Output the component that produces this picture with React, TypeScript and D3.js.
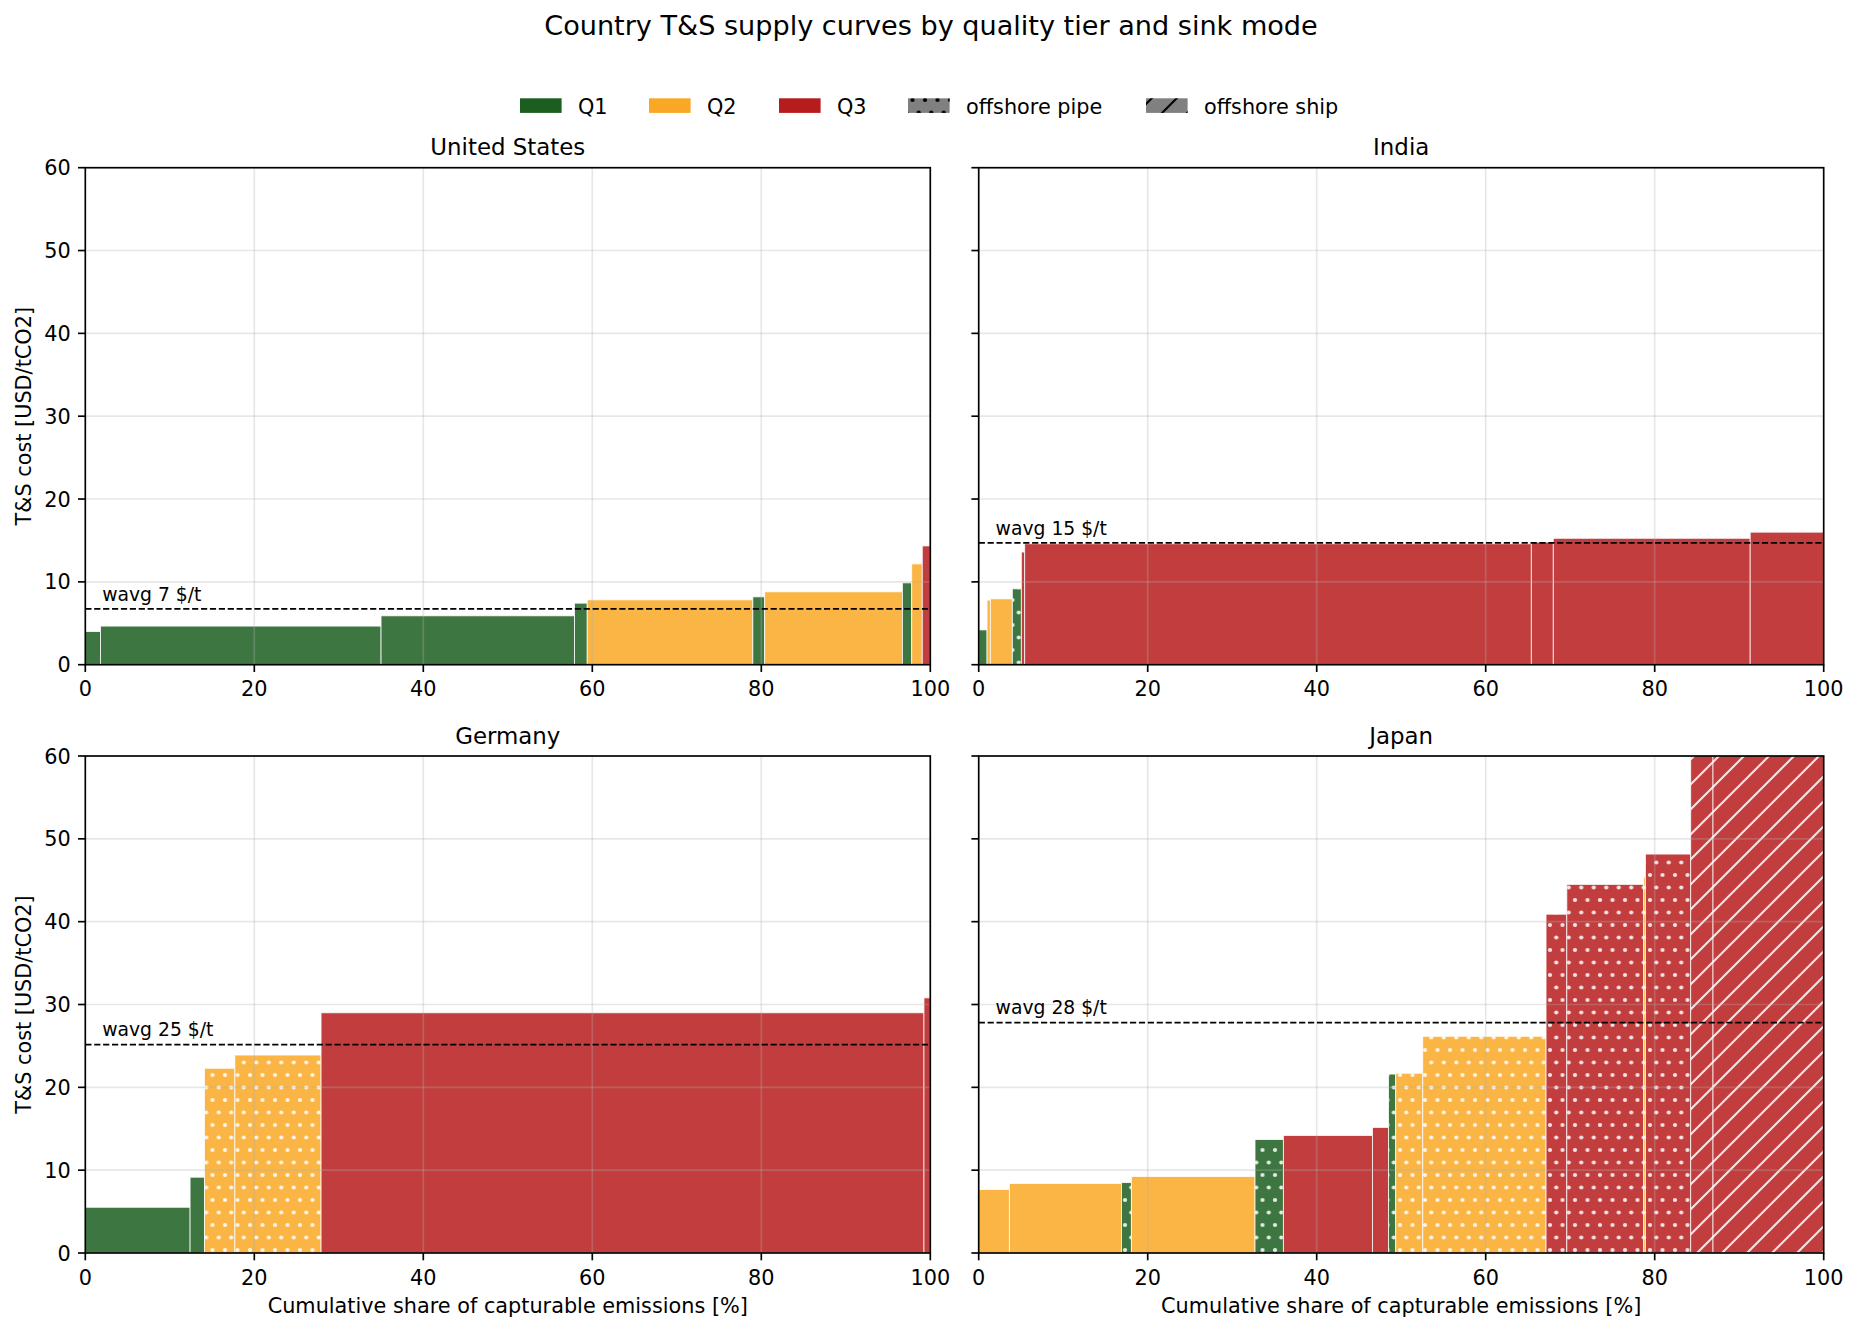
import * as d3 from 'd3';

// Country supply curves: each block = share of capturable emissions (%), T&S cost (USD/t),
// quality tier and sink mode.
const usShare = [1.8, 33.2, 22.9, 1.5, 19.6, 1.4, 16.3, 1.1, 1.25, 0.95];
const usCost = [4.0, 4.66, 5.9, 7.43, 7.83, 8.19, 8.8, 9.88, 12.17, 14.34];
const usTier = ['Q1', 'Q1', 'Q1', 'Q1', 'Q2', 'Q1', 'Q2', 'Q1', 'Q2', 'Q3'];
const usMode = ['on', 'on', 'on', 'on', 'on', 'on', 'on', 'on', 'on', 'on'];

const inShare = [0.99, 0.39, 2.6, 1.07, 0.39, 59.96, 2.6, 23.3, 8.7];
const inCost = [4.2, 7.8, 7.95, 9.16, 13.6, 14.6, 14.8, 15.26, 16.0];
const inTier = ['Q1', 'Q2', 'Q2', 'Q1', 'Q3', 'Q3', 'Q3', 'Q3', 'Q3'];
const inMode = ['on', 'on', 'on', 'pipe', 'on', 'on', 'on', 'on', 'on'];

const deShare = [12.4, 1.7, 3.6, 10.2, 71.35, 0.75];
const deCost = [5.52, 9.15, 22.3, 23.9, 29.0, 30.8];
const deTier = ['Q1', 'Q1', 'Q2', 'Q2', 'Q3', 'Q3'];
const deMode = ['on', 'on', 'pipe', 'pipe', 'on', 'on'];

const jpShare = [3.63, 13.27, 1.17, 14.63, 3.36, 10.54, 1.9, 0.85, 3.2, 14.59, 2.46, 9.1, 0.2, 5.36, 2.64, 13.1];
const jpCost = [7.66, 8.39, 8.5, 9.23, 13.7, 14.19, 15.16, 21.6, 21.7, 26.16, 40.9, 44.5, 45.4, 48.16, 66, 92];
const jpTier = ['Q2', 'Q2', 'Q1', 'Q2', 'Q1', 'Q3', 'Q3', 'Q1', 'Q2', 'Q2', 'Q3', 'Q3', 'Q2', 'Q3', 'Q3', 'Q3'];
const jpMode = ['on', 'on', 'pipe', 'on', 'pipe', 'on', 'on', 'pipe', 'pipe', 'pipe', 'pipe', 'pipe', 'pipe', 'pipe', 'ship', 'ship'];

const countryNames = ['United States', 'India', 'Germany', 'Japan'];
const wavgValues = [6.75, 14.7, 25.15, 27.8];

const xTicks = [0, 20, 40, 60, 80, 100];
const yTicks = [0, 10, 20, 30, 40, 50, 60];

const tierColor: Record<string, string> = { Q1: '#1b5e20', Q2: '#f9a825', Q3: '#b71c1c' };

const W = 1859;
const H = 1331;
const PW = 845;
const PH = 497;
const FONT = 'DejaVu Sans, sans-serif';
const LW = 1.67;

const panels = [
  { share: usShare, cost: usCost, tier: usTier, mode: usMode, x0: 85.3, y0: 167.7 },
  { share: inShare, cost: inCost, tier: inTier, mode: inMode, x0: 978.7, y0: 167.7 },
  { share: deShare, cost: deCost, tier: deTier, mode: deMode, x0: 85.3, y0: 756 },
  { share: jpShare, cost: jpCost, tier: jpTier, mode: jpMode, x0: 978.7, y0: 756 },
];

const legendItems = [
  { label: 'Q1', fill: tierColor.Q1, hatch: null, x: 520 },
  { label: 'Q2', fill: tierColor.Q2, hatch: null, x: 649 },
  { label: 'Q3', fill: tierColor.Q3, hatch: null, x: 779 },
  { label: 'offshore pipe', fill: '#808080', hatch: 'url(#dots-k)', x: 908 },
  { label: 'offshore ship', fill: '#808080', hatch: 'url(#diag-k)', x: 1146 },
];

function Panel({ p, idx }: { p: typeof panels[number]; idx: number }) {
  const x = d3.scaleLinear().domain([0, 100]).range([p.x0, p.x0 + PW]);
  const y = d3.scaleLinear().domain([0, 60]).range([p.y0 + PH, p.y0]);
  const ends = d3.cumsum(p.share);
  const bars = p.share.map((s, i) => ({
    start: ends[i] - s,
    end: ends[i],
    cost: p.cost[i],
    tier: p.tier[i],
    mode: p.mode[i],
  }));
  const leftCol = idx % 2 === 0;
  const bottomRow = idx >= 2;
  const wavg = wavgValues[idx];

  return (
    <g>
      <clipPath id={`clip-${idx}`}>
        <rect x={p.x0} y={p.y0} width={PW} height={PH} />
      </clipPath>
      <g clipPath={`url(#clip-${idx})`}>
        {bars.map((b, i) => (
          <g key={i}>
            <rect
              x={x(b.start)}
              y={y(b.cost)}
              width={x(b.end) - x(b.start)}
              height={y(0) - y(b.cost)}
              fill={tierColor[b.tier]}
              fillOpacity={0.85}
              stroke="#fff"
              strokeOpacity={0.85}
              strokeWidth={0.9}
            />
            {b.mode !== 'on' && (
              <rect
                x={x(b.start)}
                y={y(b.cost)}
                width={x(b.end) - x(b.start)}
                height={y(0) - y(b.cost)}
                fill={b.mode === 'pipe' ? 'url(#dots-w)' : 'url(#diag-w)'}
              />
            )}
          </g>
        ))}
        {xTicks.map((t) => (
          <line key={`gx${t}`} x1={x(t)} x2={x(t)} y1={p.y0} y2={p.y0 + PH} stroke="#b0b0b0" strokeOpacity={0.3} strokeWidth={LW} />
        ))}
        {yTicks.map((t) => (
          <line key={`gy${t}`} x1={p.x0} x2={p.x0 + PW} y1={y(t)} y2={y(t)} stroke="#b0b0b0" strokeOpacity={0.3} strokeWidth={LW} />
        ))}
        <line x1={p.x0} x2={p.x0 + PW} y1={y(wavg)} y2={y(wavg)} stroke="#000" strokeWidth={1.8} strokeDasharray="6.2,2.7" />
      </g>
      <text x={x(2)} y={y(wavg + 1)} fontSize={18.75} fontFamily={FONT} fill="#000">
        {`wavg ${Math.round(wavg)} $/t`}
      </text>
      <rect x={p.x0} y={p.y0} width={PW} height={PH} fill="none" stroke="#000" strokeWidth={LW} />
      {xTicks.map((t) => (
        <g key={`tx${t}`}>
          <line x1={x(t)} x2={x(t)} y1={p.y0 + PH} y2={p.y0 + PH + 7.3} stroke="#000" strokeWidth={LW} />
          <text x={x(t)} y={p.y0 + PH + 31.5} textAnchor="middle" fontSize={20.8} fontFamily={FONT} fill="#000">
            {t}
          </text>
        </g>
      ))}
      {yTicks.map((t) => (
        <g key={`ty${t}`}>
          <line x1={p.x0 - 7.3} x2={p.x0} y1={y(t)} y2={y(t)} stroke="#000" strokeWidth={LW} />
          {leftCol && (
            <text x={p.x0 - 14.6} y={y(t) + 7.5} textAnchor="end" fontSize={20.8} fontFamily={FONT} fill="#000">
              {t}
            </text>
          )}
        </g>
      ))}
      <text x={p.x0 + PW / 2} y={p.y0 - 12.3} textAnchor="middle" fontSize={22.9} fontFamily={FONT} fill="#000">
        {countryNames[idx]}
      </text>
      {leftCol && (
        <text
          transform={`translate(30.5,${p.y0 + PH / 2}) rotate(-90)`}
          textAnchor="middle"
          fontSize={20.8}
          fontFamily={FONT}
          fill="#000"
        >
          T&amp;S cost [USD/tCO2]
        </text>
      )}
      {bottomRow && (
        <text x={p.x0 + PW / 2} y={p.y0 + PH + 60} textAnchor="middle" fontSize={20.8} fontFamily={FONT} fill="#000">
          Cumulative share of capturable emissions [%]
        </text>
      )}
    </g>
  );
}

export default function App() {
  const step = 12.5;
  return (
    <div style={{ position: 'absolute', left: 0, top: 0 }}>
      <svg width={W} height={H} viewBox={`0 0 ${W} ${H}`} style={{ display: 'block', background: '#fff' }}>
        <defs>
          {[
            ['dots-w', '#fff', 0.85],
            ['dots-k', '#000', 1],
          ].map(([id, c, o]) => (
            <pattern key={id as string} id={id as string} patternUnits="userSpaceOnUse" width={step} height={step * 2}>
              {[
                [0, 0],
                [step, 0],
                [0, step * 2],
                [step, step * 2],
                [step / 2, step],
              ].map(([cx, cy], i) => (
                <circle key={i} cx={cx} cy={cy} r={2.1} fill={c as string} fillOpacity={o as number} />
              ))}
            </pattern>
          ))}
          {[
            ['diag-w', '#fff', 0.85],
            ['diag-k', '#000', 1],
          ].map(([id, c, o]) => (
            <pattern key={id as string} id={id as string} patternUnits="userSpaceOnUse" width={step * 2} height={step * 2}>
              <path
                d={`M-2,2 L2,-2 M0,${step * 2} L${step * 2},0 M${step * 2 - 2},${step * 2 + 2} L${step * 2 + 2},${step * 2 - 2}`}
                stroke={c as string}
                strokeOpacity={o as number}
                strokeWidth={2.1}
              />
            </pattern>
          ))}
        </defs>
        <rect x={0} y={0} width={W} height={H} fill="#fff" />
        <text x={931} y={34.5} textAnchor="middle" fontSize={27.1} fontFamily={FONT} fill="#000">
          Country T&amp;S supply curves by quality tier and sink mode
        </text>
        {legendItems.map((it) => (
          <g key={it.label}>
            <rect x={it.x} y={98.3} width={41.6} height={14.6} fill={it.fill} />
            {it.hatch && <rect x={it.x} y={98.3} width={41.6} height={14.6} fill={it.hatch} />}
            <text x={it.x + 58} y={114.3} fontSize={20.8} fontFamily={FONT} fill="#000">
              {it.label}
            </text>
          </g>
        ))}
        {panels.map((p, i) => (
          <Panel key={i} p={p} idx={i} />
        ))}
      </svg>
    </div>
  );
}
